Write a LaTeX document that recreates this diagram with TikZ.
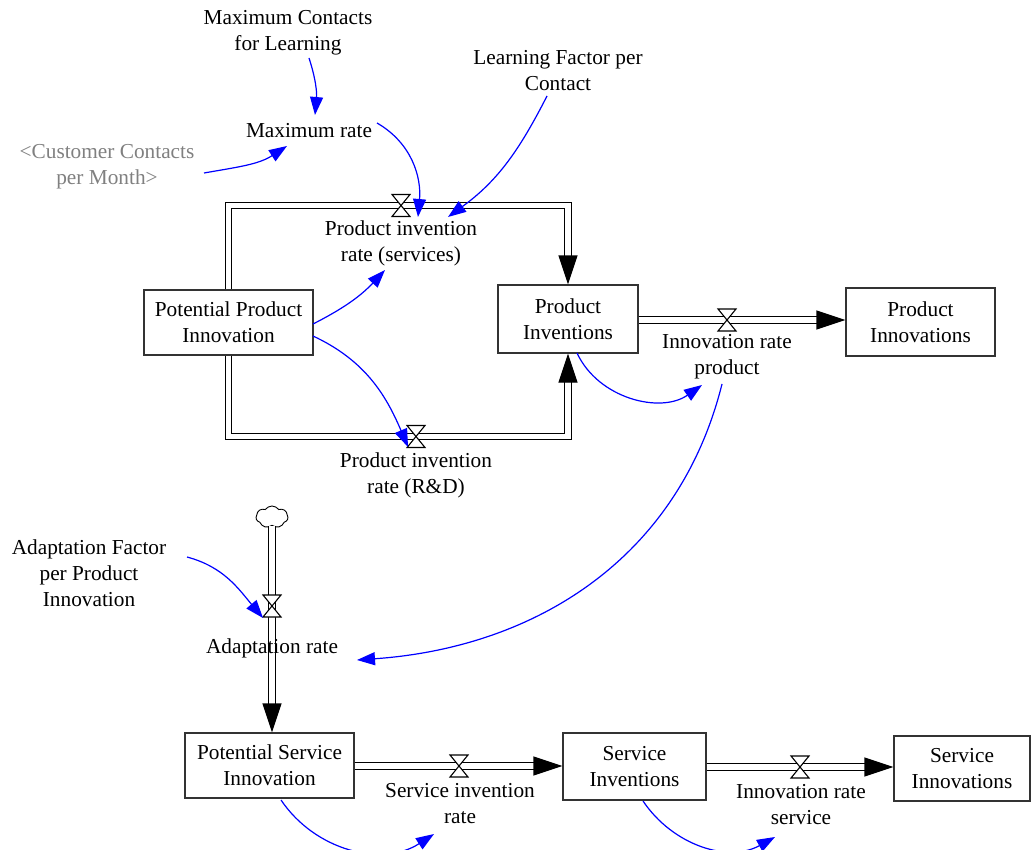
\documentclass[tikz,border=0pt]{standalone}
\usepackage{fontspec}
\setmainfont{Liberation Serif}
\usetikzlibrary{arrows.meta,shapes.symbols,calc}

\begin{document}
\begin{tikzpicture}[x=1pt,y=-1pt,
  every node/.style={font=\fontsize{21.3}{26}\selectfont, align=center, inner sep=0pt},
  stock/.style={draw=black!80, line width=1.2pt, fill=white},
  pipe/.style={draw=black, line width=1.2pt, double=white, double distance=5.5pt, -{Triangle[length=29pt,width=19pt]}},
  link/.style={blue, line width=1.2pt, -{Triangle[length=18pt,width=13pt]}},
  valve/.pic={\draw[fill=white, line width=1.1pt] (-9,-11) -- (9,-11) -- (-9,11) -- (9,11) -- cycle;}]
\useasboundingbox (0,0) rectangle (1032,850);
\node[stock, minimum width=169pt, minimum height=65pt] (ppi) at (228.5,322.5) {Potential Product\\Innovation};
\node[stock, minimum width=140pt, minimum height=68pt] (pinv) at (568,319) {Product\\Inventions};
\node[stock, minimum width=149pt, minimum height=68pt] (pinn) at (920.5,322) {Product\\Innovations};
\node[stock, minimum width=169pt, minimum height=65pt] (psi) at (269.5,765.5) {Potential Service\\Innovation};
\node[stock, minimum width=143pt, minimum height=67pt] (sinv) at (634.5,766.5) {Service\\Inventions};
\node[stock, minimum width=136pt, minimum height=65pt] (sinn) at (962,768.5) {Service\\Innovations};
\node[cloud, draw, cloud puffs=7, cloud puff arc=110, minimum width=32pt, minimum height=22pt, line width=0.9pt] (src) at (272,517) {};
\coordinate (vpirs) at (401,205.5);
\coordinate (vpird) at (416,436.5);
\coordinate (vinp) at (727,320);
\coordinate (vadp) at (272,606);
\coordinate (vsir) at (459,766);
\coordinate (virs) at (800,767);
\draw[pipe] (ppi.north) |- (vpirs) -| (pinv.north);
\draw[pipe] (ppi.south) |- (vpird) -| (pinv.south);
\draw[pipe] (pinv.east |- vinp) -- (pinn.west |- vinp);
\draw[pipe] (src.south) -- (src.south |- psi.north);
\draw[pipe] (psi.east |- vsir) -- (sinv.west |- vsir);
\draw[pipe] (sinv.east |- virs) -- (sinn.west |- virs);
\pic at (vpirs) {valve};
\pic at (vpird) {valve};
\pic at (vinp) {valve};
\pic at (vadp) {valve};
\pic at (vsir) {valve};
\pic at (virs) {valve};
\node (pirs) at (401,243) {Product invention\\rate (services)};
\node (pird) at (416,475) {Product invention\\rate (R\&D)};
\node (irp) at (727,357) {Innovation rate\\product};
\node (adp) at (272,648) {Adaptation rate};
\node (sir) at (460,804) {Service invention\\rate};
\node (irs) at (801,805) {Innovation rate\\service};
\node (mcl) at (288,33) {Maximum Contacts\\for Learning};
\node (maxr) at (309,131) {Maximum rate};
\node[text=black!50] (ccpm) at (107,167) {<Customer Contacts\\per Month>};
\node (lfpc) at (558,71) {Learning Factor per\\Contact};
\node (afppi) at (89,573) {Adaptation Factor\\per Product\\Innovation};
\draw[link] ($(mcl)+(21,25)$) to[out=-72,in=85] ($(maxr)+(6,-16)$);
\draw[link] ($(ccpm)+(97,6)$) to[out=10,in=213] ($(maxr)+(-22,15)$);
\draw[link] ($(maxr)+(68,-8)$) to[out=-30,in=85] ($(vpirs)+(17,11.5)$);
\draw[link] ($(lfpc)+(-11,25)$) to[out=-117,in=36] ($(vpirs)+(47,11.5)$);
\draw[link] ($(ppi)+(84.5,1.5)$) to[out=27,in=227] ($(pirs)+(-16,27)$);
\draw[link] ($(ppi)+(84.5,13.5)$) to[out=-25,in=113] ($(vpird)+(-8,10.5)$);
\draw[link] ($(pinv)+(9,34)$) to[out=-65,in=215] ($(irp)+(-25,28)$);
\draw[link] ($(irp)+(-5,27)$) to[out=-104,in=4] ($(adp)+(85,12)$);
\draw[link] ($(afppi)+(98,-16)$) to[out=-15,in=130] ($(vadp)+(-9,12)$);
\draw[link] ($(psi)+(11.5,34.5)$) to[out=-56,in=213] ($(sir)+(-26,30)$);
\draw[link] ($(sinv)+(8.5,34.5)$) to[out=-56,in=209] ($(irs)+(-26,32)$);
\end{tikzpicture}
\end{document}
